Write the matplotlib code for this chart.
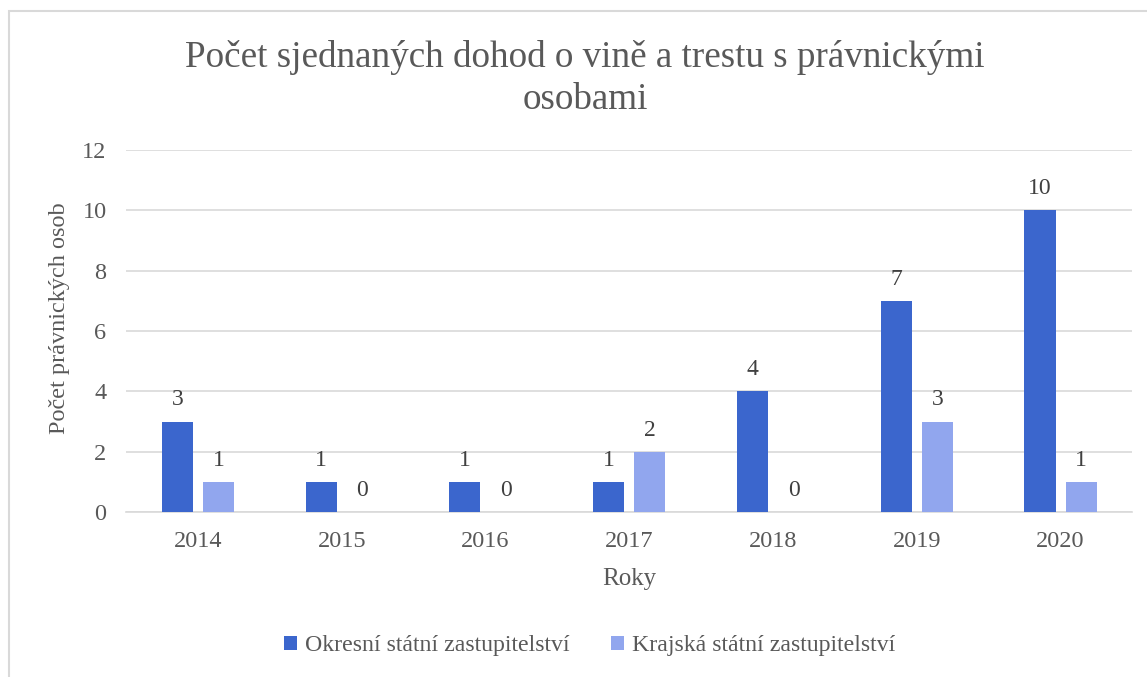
import matplotlib.pyplot as plt
import numpy as np
from matplotlib.patches import Rectangle

roky = ['2014', '2015', '2016', '2017', '2018', '2019', '2020']
okresni = [3, 1, 1, 1, 4, 7, 10]
krajska = [1, 0, 0, 2, 0, 3, 1]

barva_okr = '#3b66cd'
barva_kraj = '#91a6ee'
seda = '#595959'

plt.rcParams['font.family'] = ['Liberation Serif', 'DejaVu Serif']

fig = plt.figure(figsize=(11.47, 6.77), dpi=100)
ax = fig.add_axes([0.1099, 0.2437, 0.8774, 0.5347])

x = np.arange(len(roky))
sirka = 0.216
posun = 0.143
b1 = ax.bar(x - posun, okresni, sirka, color=barva_okr, label='Okresní státní zastupitelství', zorder=3)
b2 = ax.bar(x + posun, krajska, sirka, color=barva_kraj, label='Krajská státní zastupitelství', zorder=3)

for bars in (b1, b2):
    ax.bar_label(bars, padding=8, fontsize=17, color='#404040')

ax.set_xlim(-0.5, len(roky) - 0.5)
ax.set_ylim(0, 12)
ax.set_yticks(range(0, 13, 2))
ax.set_xticks(x)
ax.set_xticklabels(roky)
ax.tick_params(length=0, labelsize=17.5, labelcolor=seda, pad=14)
ax.tick_params(axis='y', pad=14)
ax.grid(axis='y', color='#d9d9d9', linewidth=1.2, zorder=0)
for s in ['top', 'right', 'left']:
    ax.spines[s].set_visible(False)
ax.spines['bottom'].set_color('#d9d9d9')
ax.spines['bottom'].set_linewidth(1.2)

ax.set_xlabel('Roky', fontsize=18, color=seda, labelpad=11)
ax.set_ylabel('Počet právnických osob', fontsize=17.5, color=seda)
ax.yaxis.set_label_coords(-0.0557, 0.536)

fig.text(0.51, 0.884, 'Počet sjednaných dohod o vině a trestu s právnickými\nosobami',
         ha='center', va='center', fontsize=26.7, color=seda, linespacing=1.28)

ax.legend(loc='center', bbox_to_anchor=(0.514, 0.046), bbox_transform=fig.transFigure,
          ncol=2, frameon=False, fontsize=17.2, labelcolor=seda,
          handlelength=0.55, handleheight=0.55, handletextpad=0.3, columnspacing=1.76)

fig.patches.append(Rectangle((9 / 1147, -0.05), 1.1, (677 - 11) / 677 + 0.05,
                             transform=fig.transFigure, fill=False,
                             edgecolor='#d9d9d9', linewidth=1.5))

fig.savefig('out.png', dpi=100)
